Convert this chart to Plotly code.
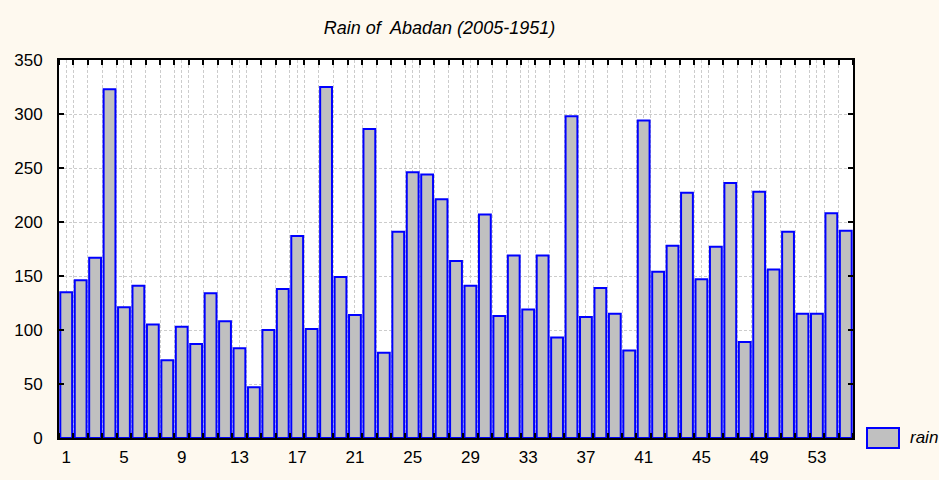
import plotly.graph_objects as go

years = list(range(1, 56))
rain = [135, 146, 167, 323, 121, 141, 105, 72, 103, 87,
        134, 108, 83, 47, 100, 138, 187, 101, 325, 149,
        114, 286, 79, 191, 246, 244, 221, 164, 141, 207,
        113, 169, 119, 169, 93, 298, 112, 139, 115, 81,
        294, 154, 178, 227, 147, 177, 236, 89, 228, 156,
        191, 115, 115, 208, 192]
x_ticks = list(range(1, 56, 4))
y_ticks = list(range(0, 351, 50))
title = "Rain of  Abadan (2005-1951)"
series_name = "rain"

font = "Liberation Sans, Arial, sans-serif"
grid_col = "#cccccc"

fig = go.Figure()
fig.add_trace(go.Bar(
    x=years, y=rain, name=series_name, width=0.82,
    marker=dict(color="#c0c0c0", line=dict(color="#0000ff", width=2)),
    showlegend=False,
))

fig.update_layout(
    width=939, height=480,
    paper_bgcolor="#fef9ef", plot_bgcolor="#ffffff",
    margin=dict(l=59, r=86, t=60, b=42),
    font=dict(family=font, size=17, color="#000000"),
    title=dict(text=title, x=0.468, xanchor="center", y=0.942, yanchor="middle",
               font=dict(family=font, size=18, style="italic", color="#000")),
)
fig.update_xaxes(
    range=[0.5, 55.5], tickmode="array", tickvals=x_ticks,
    ticktext=[str(v) for v in x_ticks], ticks="", showgrid=True,
    gridcolor=grid_col, griddash="3px,2px", gridwidth=1,
    showline=True, linecolor="#000", linewidth=2, mirror="allticks",
    ticklabelstandoff=3, zeroline=False,
    minor=dict(tick0=0.5, dtick=1, ticks="inside", ticklen=5, tickcolor="#000",
               tickwidth=2, showgrid=True, gridcolor=grid_col, griddash="3px,2px"),
)
fig.update_yaxes(
    range=[0, 350], tickmode="array", tickvals=y_ticks,
    ticks="inside", ticklen=5, tickwidth=2, tickcolor="#000",
    showgrid=True, gridcolor=grid_col, griddash="3px,2px",
    showline=True, linecolor="#000", linewidth=2, mirror="allticks",
    ticklabelstandoff=11, zeroline=False,
)

# legend swatch
fig.add_shape(type="rect", xref="paper", yref="paper",
              x0=(867 - 59) / 794, x1=(899 - 59) / 794,
              y0=(438 - 448) / 378, y1=(438 - 428) / 378,
              fillcolor="#c0c0c0", line=dict(color="#0000ff", width=2))
fig.add_annotation(text=series_name, xref="paper", yref="paper",
                   x=(908 - 59) / 794, y=(438 - 437) / 378,
                   xanchor="left", yanchor="middle", showarrow=False,
                   font=dict(family=font, size=17, style="italic"))

fig.write_html("out.html", config={"displayModeBar": False},
               post_script="document.body.style.margin='0';")
